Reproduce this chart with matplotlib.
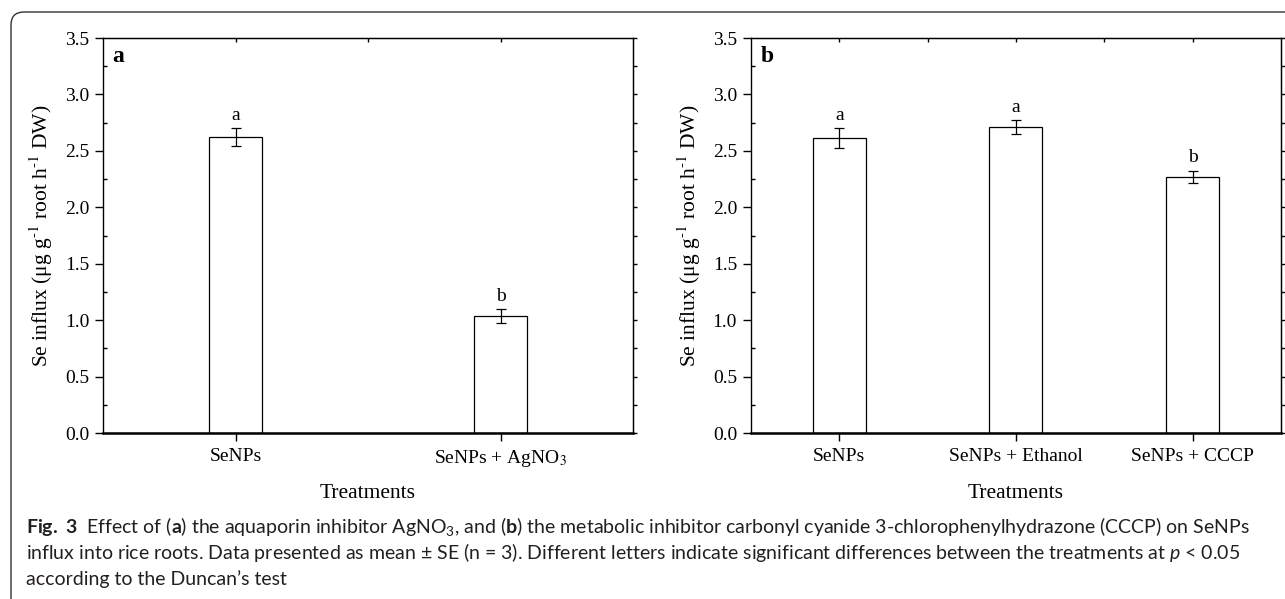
import numpy as np
import matplotlib
matplotlib.use("Agg")
import matplotlib.pyplot as plt
from matplotlib.patches import FancyBboxPatch
from matplotlib.ticker import MultipleLocator, FixedLocator

# data
treat_a = ["SeNPs", "SeNPs + AgNO$_\\mathrm{3}$"]
influx_a = [2.62, 1.035]
se_a = [0.08, 0.062]
letters_a = ["a", "b"]

treat_b = ["SeNPs", "SeNPs + Ethanol", "SeNPs + CCCP"]
influx_b = [2.615, 2.71, 2.27]
se_b = [0.085, 0.06, 0.052]
letters_b = ["a", "a", "b"]

caption_lines = [
    r"$\bf{Fig.\ 3}$  Effect of ($\bf{a}$) the aquaporin inhibitor AgNO$_\mathrm{3}$, and ($\bf{b}$) the metabolic inhibitor carbonyl cyanide 3-chlorophenylhydrazone (CCCP) on SeNPs",
    "influx into rice roots. Data presented as mean \u00b1 SE (n = 3). Different letters indicate significant differences between the treatments at $\\mathit{p}$ < 0.05",
    "according to the Duncan\u2019s test",
]

plt.rcParams["font.family"] = "Liberation Serif"
plt.rcParams["mathtext.fontset"] = "custom"
plt.rcParams["mathtext.rm"] = "Lato"
plt.rcParams["mathtext.bf"] = "Lato:bold"
plt.rcParams["mathtext.it"] = "Lato:italic"

fig = plt.figure(figsize=(12.85, 5.99), dpi=100)

# rounded frame around figure + caption
frame = FancyBboxPatch((0.11, -0.5), 13.5, 5.87 + 0.5,
                       boxstyle="round,pad=0,rounding_size=0.13",
                       transform=fig.dpi_scale_trans, facecolor="none",
                       edgecolor="#333333", linewidth=1.0)
fig.patches.append(frame)

ylab = "Se influx (\u03bcg g$^{\\text{-1}}$ root h$^{\\text{-1}}$ DW)"


def draw_panel(ax, names, vals, errs, lets, tag):
    x = np.arange(1, len(names) + 1)
    width = 0.2 if len(names) == 2 else 0.3
    ax.bar(x, vals, width=width, color="white", edgecolor="black", linewidth=0.9, zorder=2)
    ax.errorbar(x, vals, yerr=errs, fmt="none", ecolor="black", elinewidth=0.9,
                capsize=3.5, capthick=0.9, zorder=3)
    for xi, v, e, l in zip(x, vals, errs, lets):
        ax.text(xi, v + e + 0.04, l, ha="center", va="bottom", fontsize=14)
    ax.set_xlim(0.5, len(names) + 0.5)
    ax.set_ylim(0, 3.5)
    ax.yaxis.set_major_locator(MultipleLocator(0.5))
    ax.yaxis.set_minor_locator(MultipleLocator(0.25))
    ax.set_yticklabels([f"{t:.1f}" for t in ax.get_yticks()])
    ax.set_xticks(x)
    ax.set_xticklabels(names, fontsize=14, math_fontfamily="stix")
    ax.tick_params(axis="y", which="major", direction="out", length=6, width=1,
                   labelsize=14, pad=4)
    ax.tick_params(axis="y", which="minor", direction="in", length=3, width=1)
    ax.tick_params(axis="x", which="major", direction="out", length=6, width=1, pad=5)
    for s in ["left", "top", "right"]:
        ax.spines[s].set_linewidth(1.0)
    ax.spines["bottom"].set_linewidth(1.8)

    # inward ticks along the top at categories and midpoints
    top = ax.secondary_xaxis("top")
    top.xaxis.set_major_locator(FixedLocator(np.arange(1, len(names) + 0.1, 0.5)))
    top.tick_params(direction="in", length=3, width=1, labeltop=False)
    # small outward ticks on the right
    right = ax.secondary_yaxis("right")
    right.yaxis.set_major_locator(MultipleLocator(0.25))
    right.tick_params(direction="out", length=3, width=1, labelright=False)

    ax.set_ylabel(ylab, fontsize=15.5, math_fontfamily="stix", va="center")
    ax.yaxis.set_label_coords(-0.116, 0.5)
    ax.set_xlabel("Treatments", fontsize=15.5, va="center")
    ax.xaxis.set_label_coords(0.5, -0.152)
    ax.text(0.018, 0.952, tag, transform=ax.transAxes, ha="left", va="center",
            fontsize=17, fontweight="bold")


ax1 = fig.add_axes([0.0802, 0.2771, 0.4125, 0.6594])
draw_panel(ax1, treat_a, influx_a, se_a, letters_a, "a")

ax2 = fig.add_axes([0.5844, 0.2771, 0.4125, 0.6594])
draw_panel(ax2, treat_b, influx_b, se_b, letters_b, "b")

cap_y = [1 - 527 / 599, 1 - 553 / 599, 1 - 579 / 599]
for line, yy in zip(caption_lines, cap_y):
    fig.text(26 / 1285, yy, line, ha="left", va="center", fontsize=14,
             family="Lato", color="#231f20")

fig.savefig("out.png", dpi=100)
